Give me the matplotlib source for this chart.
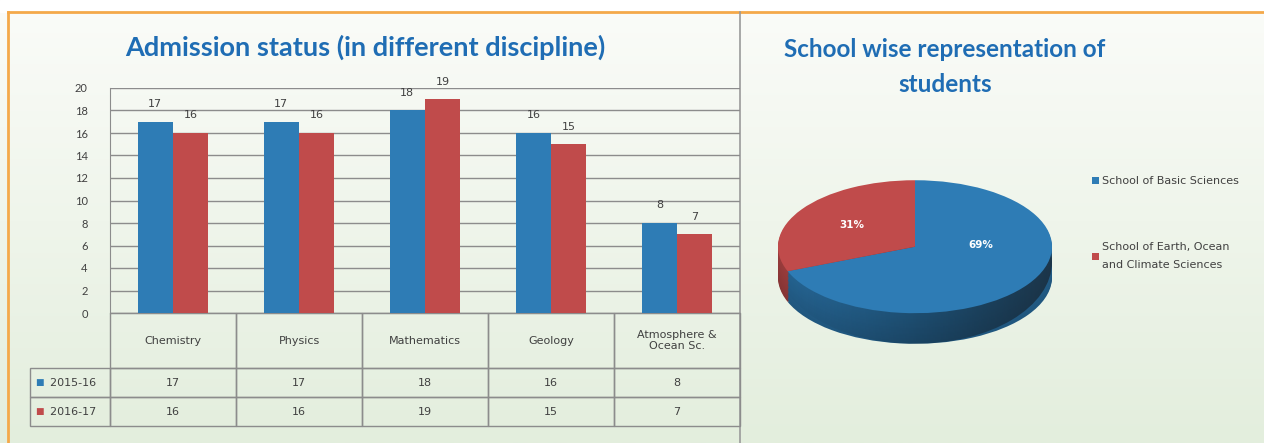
import numpy as np
import matplotlib.pyplot as plt
import matplotlib.colors as mcolors
from matplotlib.patches import Ellipse

# data
disciplines = ["Chemistry", "Physics", "Mathematics", "Geology", "Atmosphere &\nOcean Sc."]
years = ["2015-16", "2016-17"]
admit_2015 = [17, 17, 18, 16, 8]
admit_2016 = [16, 16, 19, 15, 7]
yticks = list(range(0, 21, 2))

schools = ["School of Basic Sciences", "School of Earth, Ocean\nand Climate Sciences"]
school_share = [69, 31]

BLUE = "#2e7cb5"
RED = "#c04b4b"
TITLE = "#1f6db4"
GRID = "#8c8c8c"
TXT = "#404040"
ORANGE = "#f4a94a"
SMALL = "DejaVu Sans"   # the small print in the reference is wide

plt.rcParams['font.family'] = ['Lato', 'DejaVu Sans']

W, H = 1264, 443
fig = plt.figure(figsize=(W / 100, H / 100), dpi=100)


def px(x0, y0, x1, y1):
    # pixel box (top-left origin) -> figure fraction rect
    return [x0 / W, 1 - y1 / H, (x1 - x0) / W, (y1 - y0) / H]


# background: pale green gradient
bg = fig.add_axes([0, 0, 1, 1], zorder=-10)
grad = np.linspace(0, 1, 256).reshape(-1, 1)
cmap_bg = mcolors.LinearSegmentedColormap.from_list("bg", ["#fbfcf9", "#e3eedd"])
bg.imshow(grad, aspect="auto", cmap=cmap_bg, extent=[0, 1, 0, 1], origin="upper")
bg.set_xlim(0, 1)
bg.set_ylim(0, 1)
bg.axis("off")
# white strip above the panels, orange frame, grey divider
bg.axhspan(1 - 12 / H, 1, color="white", zorder=1)
bg.axhline(1 - 12 / H, xmin=8 / W, xmax=1, color=ORANGE, lw=2, zorder=2)
bg.axvline(8 / W, ymin=0, ymax=1 - 12 / H, color=ORANGE, lw=2, zorder=2)
bg.axvline(740 / W, ymin=0, ymax=1 - 12 / H, color="#9a9a9a", lw=1.2, zorder=2)

# ---------------- bar chart ----------------
ax = fig.add_axes(px(110, 88, 740, 313))
ax.set_facecolor("none")
x = np.arange(len(disciplines))
bw = 0.28
b1 = ax.bar(x - bw / 2, admit_2015, bw, color=BLUE, zorder=3)
b2 = ax.bar(x + bw / 2, admit_2016, bw, color=RED, zorder=3)
for bars in (b1, b2):
    ax.bar_label(bars, padding=9, fontsize=8, color=TXT, family=SMALL)

ax.set_xlim(-0.5, len(disciplines) - 0.5)
ax.set_ylim(0, 20)
ax.set_yticks(yticks)
ax.tick_params(axis="y", length=0, pad=16, labelsize=8, labelcolor=TXT)
ax.set_xticks([])
ax.yaxis.grid(True, color=GRID, lw=1)
ax.set_axisbelow(True)
for s in ("top", "right"):
    ax.spines[s].set_visible(False)
ax.spines["left"].set_color(GRID)
ax.spines["bottom"].set_color(GRID)

# data table under the bars; first column holds the series names
cell_text = [["  " + years[0]] + [str(v) for v in admit_2015],
             ["  " + years[1]] + [str(v) for v in admit_2016]]
tab = ax.table(cellText=cell_text, colLabels=[""] + disciplines, cellLoc="center",
               bbox=[-80 / 630, -113 / 225, 710 / 630, 113 / 225])
tab.auto_set_font_size(False)
tab.set_fontsize(8)
for (r, c), cell in tab.get_celld().items():
    cell.set_edgecolor(GRID)
    cell.set_linewidth(1)
    cell.set_facecolor("none")
    cell.get_text().set_color(TXT)
    cell.get_text().set_family(SMALL)
    cell.set_width(126 if c > 0 else 80)
    cell.set_height(55 if r == 0 else 29)
    if r == 0 and c == 0:
        cell.visible_edges = ""
for i, col in enumerate([BLUE, RED]):
    ax.text(-75 / 630, -(55 + 29 * i + 14.5) / 225, "\u25a0", color=col,
            fontsize=6.5, va="center", ha="left", transform=ax.transAxes,
            family=SMALL)

fig.text(365 / W, 1 - 47 / H, "Admission status (in different discipline)",
         ha="center", va="center", fontsize=19.5, fontweight="bold", color=TITLE)

# ---------------- pie chart ----------------
pax = fig.add_axes(px(768, 170, 1062, 354))
pax.set_facecolor("none")
depth = 0.46
layers = 24
shade = [mcolors.to_rgb(BLUE), mcolors.to_rgb(RED)]
for k in range(layers):
    f = 0.7 + 0.1 * k / layers
    cols = [tuple(c * f for c in rgb) for rgb in shade]
    pax.pie(school_share, colors=cols, startangle=90, counterclock=False,
            center=(0, -depth * (1 - k / layers)), radius=1,
            wedgeprops=dict(linewidth=0))
wedges, _, autotexts = pax.pie(school_share, colors=[BLUE, RED], startangle=90,
                               counterclock=False, radius=1, autopct="%1.0f%%",
                               textprops=dict(color="white", fontsize=7.5,
                                              fontweight="bold", family=SMALL),
                               wedgeprops=dict(linewidth=0))
autotexts[0].set_position((0.48, 0.02))
autotexts[1].set_position((-0.46, 0.33))

# dark gradient over the side, towards the right
side = np.linspace(0, 1, 256).reshape(1, -1) ** 1.5
shade_cmap = mcolors.LinearSegmentedColormap.from_list(
    "sh", [(0, 0, 0, 0.0), (0.1, 0.14, 0.18, 0.7)])
im = pax.imshow(side, cmap=shade_cmap, extent=[-1, 1, -1 - depth, 0.2], aspect="auto", zorder=1.5)
im.set_clip_path(Ellipse((0, -depth / 2), 2, 2 + depth, transform=pax.transData))
pax.set_aspect("auto")
pax.set_xlim(-1 - 10 / 137, 1 + 10 / 137)
pax.set_ylim(-1 - depth - 10 / 65, 1 + 10 / 65)
pax.axis("off")
for w in wedges:
    w.set_zorder(2)
for t in autotexts:
    t.set_zorder(3)

leg = fig.legend(wedges, schools, loc="upper left", bbox_to_anchor=(1082 / W, 1 - 166 / H),
                 frameon=False, labelspacing=5.0, handlelength=0.6,
                 handleheight=0.6, handletextpad=0.3, labelcolor=TXT,
                 prop=dict(family=SMALL, size=8))
for t in leg.get_texts():
    t.set_linespacing(2.1)

fig.text(945 / W, 1 - 67 / H, "School wise representation of\nstudents",
         ha="center", va="center", fontsize=17.5, fontweight="bold", color=TITLE,
         linespacing=1.6)

fig.savefig("out.png", dpi=100)
